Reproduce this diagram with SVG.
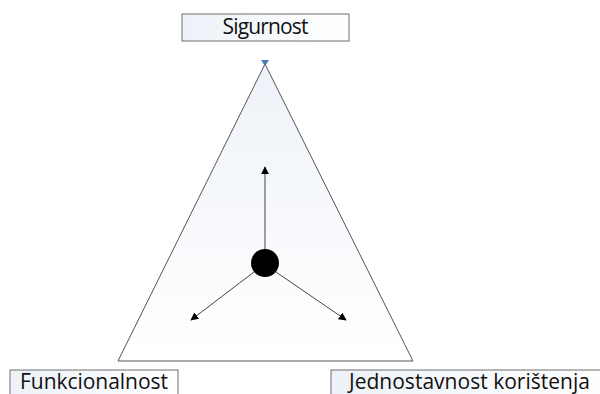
<svg xmlns="http://www.w3.org/2000/svg" width="600" height="394" viewBox="0 0 600 394">
<defs>
<linearGradient id="tri" x1="0" y1="0" x2="0" y2="1">
<stop offset="0" stop-color="#eef2f8"/>
<stop offset="1" stop-color="#ffffff"/>
</linearGradient>
<linearGradient id="box" x1="0" y1="0" x2="1" y2="0">
<stop offset="0" stop-color="#edf2f8"/>
<stop offset="1" stop-color="#ffffff"/>
</linearGradient>
<marker id="ah" viewBox="0 0 10 10" refX="9" refY="5" markerWidth="8" markerHeight="8" markerUnits="userSpaceOnUse" orient="auto">
<path d="M0,0 L10,5 L0,10 z" fill="#000"/>
</marker>
</defs>
<style>
.box{fill:url(#box);stroke:#6e6e6e;stroke-width:1}
.lbl{font-family:"Open Sans","Liberation Sans",sans-serif;font-size:21px;fill:#111;text-anchor:middle}
.conn{stroke:#444;stroke-width:1;fill:none;marker-end:url(#ah)}
</style>
<rect width="600" height="394" fill="#fff"/>
<g id="triangle">
<polygon points="265,64 118,361 413,361" fill="url(#tri)" stroke="#555" stroke-width="1"/>
<path d="M261,60 L269,60 L265,66 z" fill="#4a7ab0"/>
</g>
<g id="node-sigurnost">
<rect class="box" x="182" y="14" width="167" height="27"/>
<text class="lbl" x="265.5" y="34" textLength="86">Sigurnost</text>
</g>
<g id="node-funkcionalnost">
<rect class="box" x="10" y="370" width="168" height="30"/>
<text class="lbl" x="94" y="389" textLength="148">Funkcionalnost</text>
</g>
<g id="node-jednostavnost">
<rect class="box" x="331" y="370" width="280" height="30"/>
<text class="lbl" x="469.5" y="389" textLength="241">Jednostavnost korištenja</text>
</g>
<g id="connectors">
<line class="conn" x1="265" y1="250" x2="265" y2="167"/>
<line class="conn" x1="254" y1="272" x2="191" y2="320"/>
<line class="conn" x1="276" y1="272" x2="346" y2="320"/>
</g>
<g id="node-center">
<circle cx="265" cy="263" r="14" fill="#000"/>
</g>
</svg>
